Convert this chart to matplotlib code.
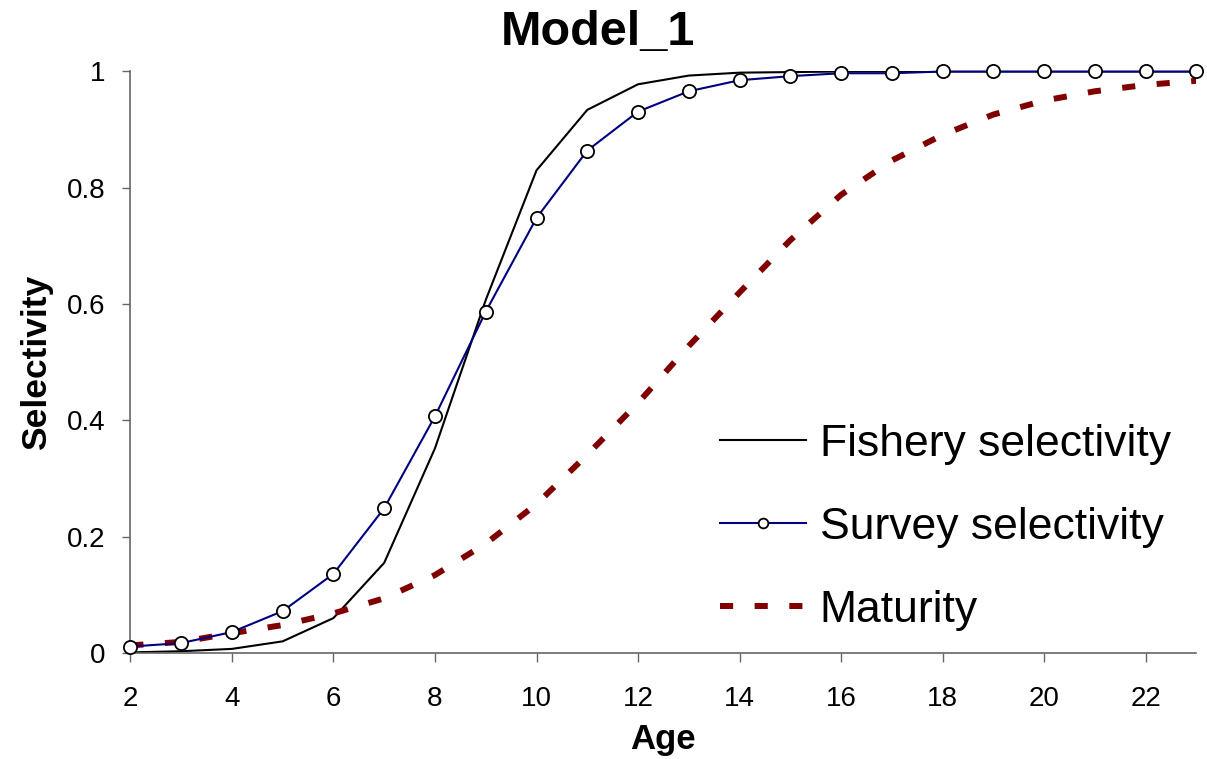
import matplotlib
matplotlib.use("Agg")
import matplotlib.pyplot as plt

plt.rcParams['font.family'] = ['Liberation Sans', 'DejaVu Sans']

ages = list(range(2, 24))
fishery = [0.001, 0.003, 0.007, 0.020, 0.060, 0.155, 0.352, 0.607, 0.830, 0.934,
           0.978, 0.993, 0.998, 0.999, 1.0, 1.0, 1.0, 1.0, 1.0, 1.0, 1.0, 1.0]
survey = [0.011, 0.017, 0.036, 0.072, 0.136, 0.249, 0.407, 0.587, 0.748, 0.864,
          0.931, 0.966, 0.985, 0.992, 0.997, 0.997, 1.0, 1.0, 1.0, 1.0, 1.0, 1.0]
maturity = [0.013, 0.019, 0.034, 0.048, 0.068, 0.094, 0.134, 0.188, 0.256, 0.341,
            0.430, 0.528, 0.620, 0.710, 0.788, 0.847, 0.891, 0.926, 0.950, 0.966,
            0.977, 0.984]
xticks = list(range(2, 23, 2))
yticks = [0, 0.2, 0.4, 0.6, 0.8, 1.0]
ytick_labels = ['0', '0.2', '0.4', '0.6', '0.8', '1']

fig = plt.figure(figsize=(12.07, 7.59), dpi=100)
ax = fig.add_axes([0.108, 0.1397, 0.8833, 0.7661])

ax.plot(ages, fishery, color='black', lw=1.5, label='Fishery selectivity', zorder=2)
ax.plot(ages, maturity, color='#800000', lw=4.3, dashes=(2.2, 3.6),
        dash_capstyle='butt', label='Maturity', zorder=3)
ax.plot(ages, survey, color='#000080', lw=1.5, marker='o', markersize=9.5,
        markerfacecolor='white', markeredgecolor='black', markeredgewidth=1.3,
        label='Survey selectivity', zorder=4, clip_on=False)

ax.set_xlim(2, 23)
ax.set_ylim(0, 1)
ax.set_xticks(xticks)
ax.set_xticklabels([str(t) for t in xticks])
ax.set_yticks(yticks)
ax.set_yticklabels(ytick_labels)

for s in ('top', 'right'):
    ax.spines[s].set_visible(False)
for s in ('left', 'bottom'):
    ax.spines[s].set_color('#666666')
    ax.spines[s].set_linewidth(1.2)

ax.tick_params(axis='x', direction='out', length=6.5, width=1, color='#666666',
               labelsize=20, pad=17)
ax.tick_params(axis='y', direction='out', length=6, width=1, color='#666666',
               labelsize=20, pad=12)

fig.text(0.4955, 1 - 45 / 759, 'Model_1', fontsize=35, fontweight='bold',
         ha='center', va='baseline')
ax.set_xlabel('Age', fontsize=25, fontweight='bold', labelpad=8)
ax.set_ylabel('Selectivity', fontsize=25.5, fontweight='bold', labelpad=10)

handles, labels = ax.get_legend_handles_labels()
order = [0, 2, 1]
leg = ax.legend([handles[i] for i in order], [labels[i] for i in order],
                loc='lower right', bbox_to_anchor=(0.9925, 0.008), frameon=False,
                fontsize=32, handlelength=1.95, handletextpad=0.3,
                labelspacing=0.94, borderaxespad=0)
leg.legend_handles[1].set_markersize(7)

fig.savefig('out.png', dpi=100)
